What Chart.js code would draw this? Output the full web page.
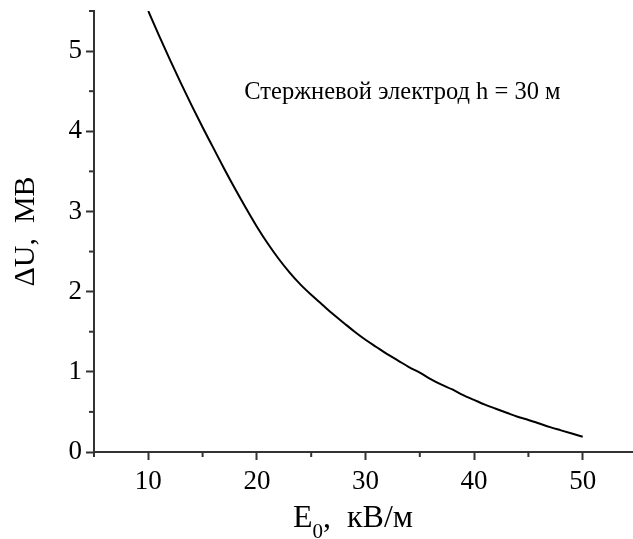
<!DOCTYPE html>
<html>
<head>
<meta charset="utf-8">
<script src="https://cdn.jsdelivr.net/npm/chart.js@4.4.1/dist/chart.umd.min.js"></script>
<style>
  html, body { margin: 0; padding: 0; background: #fff; overflow: hidden; }
  #wrap { width: 640px; height: 539px; }
</style>
</head>
<body>
<div id="wrap"><canvas id="myChart" width="640" height="539"></canvas></div>
<script>
const fieldValues = [10, 11, 12, 13, 14, 15, 16, 17, 18, 19, 20, 21, 22, 23, 24, 25, 26, 27, 28, 29, 30,
    31, 32, 33, 34, 35, 36, 37, 38, 39, 40, 41, 42, 43, 44, 45, 46, 47, 48, 49, 50];
const deltaU = [5.50, 5.19, 4.89, 4.60, 4.32, 4.05, 3.79, 3.53, 3.28, 3.04, 2.81, 2.60, 2.41, 2.24, 2.09,
    1.96, 1.84, 1.72, 1.61, 1.50, 1.40, 1.31, 1.22, 1.14, 1.06, 0.99, 0.91, 0.84, 0.78, 0.71, 0.65,
    0.59, 0.54, 0.49, 0.44, 0.40, 0.355, 0.31, 0.27, 0.23, 0.19];
const xTickLabels = [10, 20, 30, 40, 50];
const yTickLabels = [0, 1, 2, 3, 4, 5];
const noteText = "Стержневой электрод h = 30 м";
const noteAt = [33.4, 4.4];

const axisColor = '#333';
const serif = '"Liberation Serif", "Times New Roman", serif';

// short ticks between the labelled ones
const minorTicks = {
    id: 'minorTicks',
    afterDraw(chart) {
        const ctx = chart.ctx;
        const xs = chart.scales.x, ys = chart.scales.y;
        ctx.save();
        ctx.strokeStyle = axisColor;
        ctx.lineWidth = 2;
        xs.ticks.forEach(t => {
            if (xTickLabels.includes(t.value)) return;
            const px = xs.getPixelForValue(t.value);
            ctx.beginPath();
            ctx.moveTo(px, xs.top);
            ctx.lineTo(px, xs.top + 5);
            ctx.stroke();
        });
        ys.ticks.forEach(t => {
            if (yTickLabels.includes(t.value)) return;
            const py = ys.getPixelForValue(t.value);
            ctx.beginPath();
            ctx.moveTo(ys.right, py);
            ctx.lineTo(ys.right - 5, py);
            ctx.stroke();
        });
        ctx.restore();
    }
};

// x title with subscript and the note inside the plot
const texts = {
    id: 'texts',
    afterDraw(chart) {
        const ctx = chart.ctx;
        const xs = chart.scales.x, ys = chart.scales.y;
        ctx.save();
        ctx.fillStyle = '#000';

        ctx.font = '24.5px ' + serif;
        ctx.textAlign = 'center';
        ctx.textBaseline = 'alphabetic';
        ctx.fillText(noteText, xs.getPixelForValue(noteAt[0]), ys.getPixelForValue(noteAt[1]));

        ctx.textAlign = 'left';
        let x = 293, base = 527;
        ctx.font = '32px ' + serif;
        ctx.fillText('E', x, base);
        x += ctx.measureText('E').width;
        ctx.font = '21px ' + serif;
        ctx.fillText('0', x, base + 11);
        x += ctx.measureText('0').width;
        ctx.font = '32px ' + serif;
        ctx.fillText(',  кВ/м', x, base);
        ctx.restore();
    }
};

const noPad = s => { s.paddingTop = 0; s.paddingBottom = 0; s.paddingLeft = 0; s.paddingRight = 0; };

const ctx = document.getElementById('myChart').getContext('2d');
new Chart(ctx, {
    type: 'line',
    data: {
        datasets: [{
            data: fieldValues.map((e, i) => ({ x: e, y: deltaU[i] })),
            borderColor: '#000',
            borderWidth: 2,
            pointRadius: 0,
            cubicInterpolationMode: 'monotone',
            fill: false
        }]
    },
    options: {
        responsive: false,
        animation: false,
        events: [],
        layout: { padding: { top: 11, right: 3, left: 0, bottom: 0 } },
        plugins: { legend: { display: false }, tooltip: { enabled: false } },
        scales: {
            x: {
                type: 'linear',
                min: 5,
                max: 55,
                afterFit: s => { s.height = 87; noPad(s); },
                border: { display: true, color: axisColor, width: 2 },
                grid: {
                    drawOnChartArea: false,
                    tickLength: 8,
                    tickWidth: 2,
                    tickColor: c => xTickLabels.includes(c.tick.value) ? axisColor : 'rgba(0,0,0,0)'
                },
                ticks: {
                    stepSize: 5,
                    padding: 6,
                    color: '#000',
                    font: { family: serif, size: 27 },
                    maxRotation: 0,
                    autoSkip: false,
                    callback: v => xTickLabels.includes(v) ? String(v) : ''
                }
            },
            y: {
                min: 0,
                max: 5.5,
                afterFit: s => { s.width = 94; noPad(s); },
                border: { display: true, color: axisColor, width: 2 },
                grid: {
                    drawOnChartArea: false,
                    tickLength: 8,
                    tickWidth: 2,
                    tickColor: c => yTickLabels.includes(c.tick.value) ? axisColor : 'rgba(0,0,0,0)'
                },
                ticks: {
                    stepSize: 0.5,
                    padding: 4,
                    color: '#000',
                    font: { family: serif, size: 27 },
                    autoSkip: false,
                    callback: v => yTickLabels.includes(v) ? String(v) : ''
                },
                title: {
                    display: true,
                    text: 'ΔU,  МВ',
                    color: '#000',
                    font: { family: serif, size: 30, weight: 'normal' },
                    padding: { top: 8, bottom: 0 }
                }
            }
        }
    },
    plugins: [minorTicks, texts]
});
</script>
</body>
</html>
